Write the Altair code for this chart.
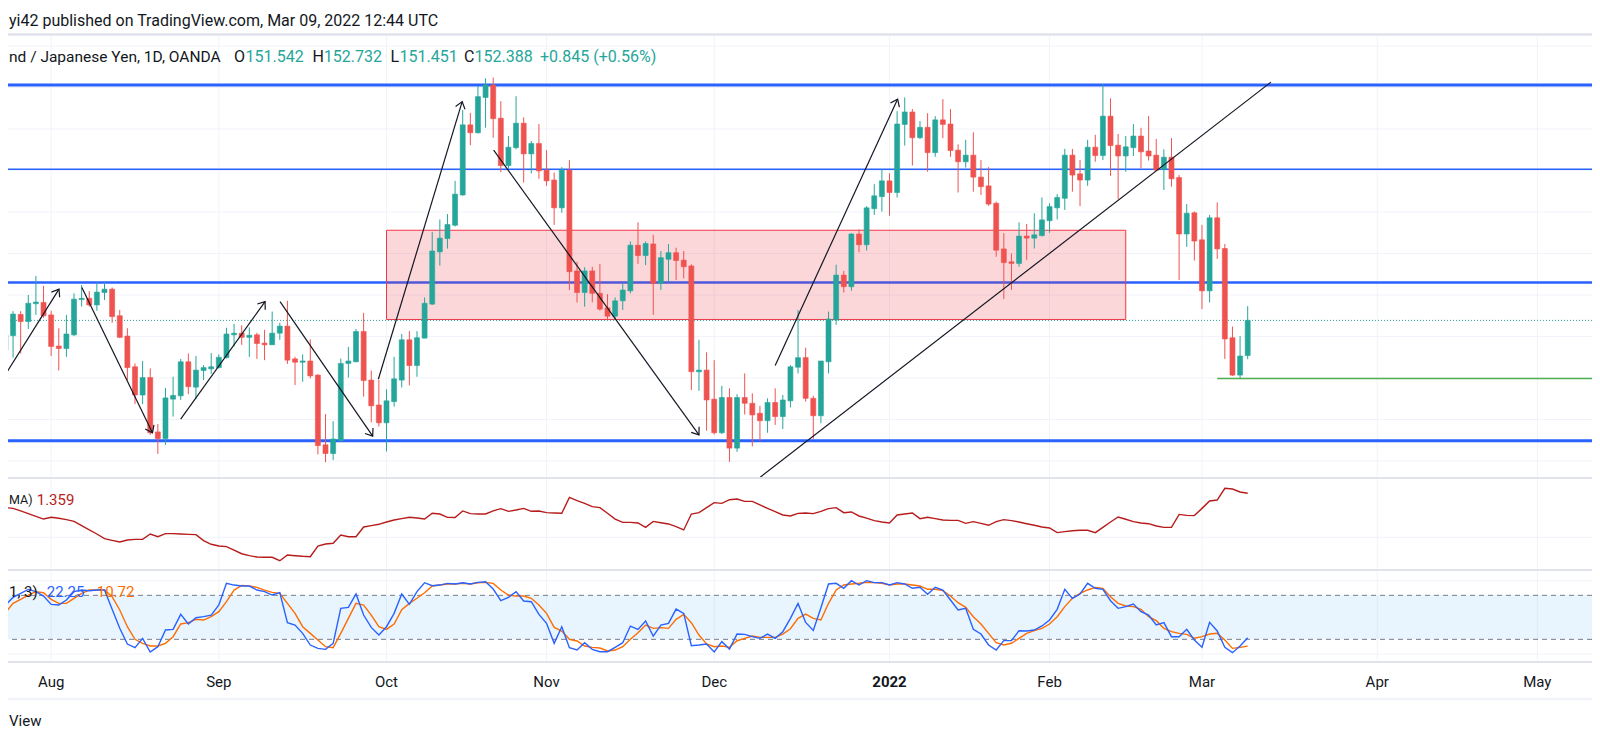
import math
import pandas as pd
import altair as alt

# ---------------- data (bar index 0 = Aug 2, 2021; 1D GBP/JPY, OANDA) ----------------
FIRST_BAR = -6

OPEN = [151.67, 152.02, 152.53, 152.36, 152.79, 152.82, 152.52, 151.77, 151.71, 152.04,
        152.89, 152.92, 152.76, 153.06, 153.14, 152.50, 152.01, 151.27, 150.59, 151.01,
        149.70, 149.54, 150.49, 150.57, 151.39, 150.78, 151.18, 151.22, 151.25, 151.49,
        152.04, 152.08, 151.98, 152.04, 151.84, 151.80, 152.08, 152.25, 151.46, 151.38,
        151.41, 151.07, 149.39, 149.18, 149.49, 151.35, 151.39, 152.12, 150.95, 150.35,
        149.92, 150.43, 150.95, 151.92, 151.30, 151.96, 152.78, 154.04, 154.36, 154.68,
        155.41, 157.10, 156.91, 157.76, 158.06, 157.26, 156.12, 156.55, 157.14, 156.40,
        156.65, 156.01, 155.77, 155.10, 156.01, 153.58, 153.06, 153.58, 153.04, 152.69,
        152.49, 152.86, 153.10, 154.20, 153.95, 154.23, 153.28, 153.86, 154.02, 153.84,
        153.70, 151.15, 151.19, 150.49, 149.68, 150.53, 149.31, 150.53, 150.39, 150.15,
        149.97, 150.41, 150.07, 150.45, 151.26, 151.49, 150.51, 150.09, 151.39, 152.40,
        153.48, 153.20, 154.47, 154.21, 155.08, 155.37, 155.75, 155.47, 157.11, 157.41,
        156.79, 157.04, 156.43, 157.22, 157.12, 156.49, 156.21, 156.37, 155.84, 155.63,
        155.21, 154.11, 153.80, 153.76, 154.42, 154.37, 154.43, 154.79, 155.10, 155.33,
        156.37, 155.92, 155.77, 156.56, 156.36, 157.31, 156.61, 156.35, 156.55, 156.83,
        156.47, 156.37, 156.03, 156.32, 155.83, 154.47, 154.98, 154.33, 153.10, 154.86,
        154.12, 151.97, 151.07, 151.542]

HIGH = [152.28, 152.61, 152.61, 153.00, 153.46, 153.22, 152.62, 152.20, 152.52, 153.04,
        153.24, 153.09, 153.31, 153.31, 153.18, 152.64, 152.20, 151.35, 151.41, 151.23,
        149.89, 150.76, 151.03, 151.46, 151.59, 151.53, 151.31, 151.60, 151.57, 152.21,
        152.30, 152.27, 152.22, 152.09, 152.16, 152.60, 152.33, 152.86, 151.51, 151.57,
        151.93, 151.09, 150.13, 149.96, 151.47, 151.75, 152.18, 152.57, 151.18, 150.95,
        150.73, 151.51, 152.06, 152.13, 152.13, 152.94, 154.52, 154.82, 154.95, 155.75,
        157.46, 157.39, 158.04, 158.22, 158.24, 157.67, 156.83, 157.79, 157.28, 156.71,
        157.12, 156.49, 155.95, 156.08, 156.25, 153.80, 153.67, 153.68, 153.75, 153.02,
        152.94, 153.28, 154.29, 154.75, 154.29, 154.45, 154.06, 154.23, 154.14, 154.06,
        153.74, 151.92, 151.62, 151.43, 150.81, 150.75, 150.61, 151.11, 150.63, 150.33,
        150.51, 150.75, 150.59, 151.31, 152.64, 151.73, 150.57, 151.41, 152.60, 153.73,
        153.58, 154.49, 154.58, 155.14, 155.67, 156.03, 155.93, 157.43, 157.76, 157.48,
        157.19, 157.38, 157.31, 157.72, 157.48, 156.63, 156.74, 156.92, 156.25, 156.08,
        155.25, 154.49, 154.00, 154.75, 154.71, 154.97, 155.35, 155.21, 155.43, 156.52,
        156.52, 156.25, 156.74, 156.86, 158.08, 157.74, 156.88, 156.83, 157.12, 157.03,
        157.31, 156.76, 156.51, 156.78, 155.89, 155.19, 155.01, 154.69, 154.93, 155.23,
        154.23, 152.24, 152.01, 152.732]

LOW = [151.47, 151.49, 151.59, 152.18, 152.52, 152.45, 151.53, 151.18, 151.51, 152.01,
       152.72, 152.72, 152.62, 152.88, 152.33, 151.96, 150.95, 150.37, 150.37, 149.63,
       149.17, 149.39, 150.07, 150.47, 150.61, 150.49, 150.95, 151.10, 151.23, 151.47,
       151.76, 151.80, 151.51, 151.46, 151.43, 151.80, 151.92, 151.34, 150.83, 150.91,
       150.99, 149.16, 148.97, 149.02, 149.47, 151.01, 151.38, 150.55, 149.93, 149.83,
       149.23, 150.31, 150.77, 150.82, 151.03, 151.96, 152.76, 153.71, 154.12, 154.65,
       155.39, 156.61, 156.89, 157.03, 156.79, 155.96, 156.04, 156.51, 155.71, 155.93,
       155.80, 155.63, 154.69, 154.98, 153.12, 152.82, 152.72, 152.82, 152.62, 152.41,
       152.41, 152.64, 153.04, 153.75, 153.72, 152.52, 153.12, 153.31, 153.36, 153.40,
       150.71, 150.69, 149.73, 149.64, 149.65, 148.98, 149.22, 150.12, 149.35, 149.48,
       149.68, 149.87, 149.77, 150.29, 151.11, 150.43, 149.53, 149.91, 151.11, 152.28,
       153.06, 153.10, 154.03, 154.07, 154.93, 155.01, 154.91, 155.35, 156.60, 156.12,
       156.76, 155.97, 156.33, 156.78, 156.33, 155.47, 156.07, 155.49, 155.41, 155.15,
       153.92, 152.90, 153.12, 153.68, 153.84, 154.12, 154.41, 154.50, 154.82, 155.05,
       155.49, 155.14, 155.63, 156.21, 156.25, 155.87, 155.31, 155.97, 156.35, 156.05,
       156.24, 155.99, 155.53, 155.61, 153.36, 154.16, 153.83, 152.66, 152.82, 153.87,
       151.46, 151.05, 150.99, 151.451]

CLOSE = [152.04, 152.54, 152.36, 152.80, 152.83, 152.50, 151.76, 151.71, 152.06, 152.90,
         152.92, 152.76, 153.07, 153.14, 152.48, 151.98, 151.25, 150.59, 151.01, 149.68,
         149.54, 150.52, 150.58, 151.39, 150.79, 151.19, 151.25, 151.27, 151.50, 152.06,
         152.08, 151.98, 152.03, 151.83, 151.80, 152.08, 152.25, 151.43, 151.38, 151.41,
         151.05, 149.37, 149.18, 149.53, 151.35, 151.41, 152.12, 150.94, 150.33, 149.92,
         150.45, 150.98, 151.92, 151.30, 151.97, 152.80, 154.06, 154.37, 154.70, 155.43,
         157.10, 156.91, 157.78, 158.06, 157.25, 156.12, 156.56, 157.14, 156.40, 156.65,
         155.99, 155.75, 155.10, 156.01, 153.56, 153.06, 153.58, 153.04, 152.66, 152.49,
         152.86, 153.12, 154.20, 153.95, 154.24, 153.28, 153.90, 154.02, 153.83, 153.68,
         151.15, 151.19, 150.47, 149.68, 150.53, 149.31, 150.53, 150.39, 150.11, 149.97,
         150.41, 150.07, 150.47, 151.27, 151.49, 150.51, 150.09, 151.41, 152.42, 153.48,
         153.20, 154.47, 154.21, 155.10, 155.39, 155.75, 155.47, 157.12, 157.41, 156.79,
         157.04, 156.43, 157.22, 157.11, 156.48, 156.21, 156.37, 155.84, 155.61, 155.19,
         154.08, 153.78, 153.76, 154.42, 154.37, 154.45, 154.81, 155.13, 155.35, 156.37,
         155.89, 155.77, 156.56, 156.36, 157.31, 156.60, 156.35, 156.57, 156.83, 156.45,
         156.35, 156.01, 156.32, 155.80, 154.47, 154.97, 154.30, 153.10, 154.86, 154.11,
         151.94, 151.07, 151.53, 152.388]

ATR = [1.242, 1.236, 1.215, 1.193, 1.171, 1.149, 1.163, 1.155, 1.144, 1.130,
       1.095, 1.060, 1.027, 0.989, 0.975, 0.962, 0.978, 0.983, 0.983, 1.027,
       1.005, 1.030, 1.030, 1.027, 1.024, 1.022, 0.973, 0.943, 0.929, 0.924,
       0.896, 0.866, 0.850, 0.839, 0.837, 0.837, 0.809, 0.856, 0.850, 0.845,
       0.842, 0.929, 0.945, 0.951, 1.019, 1.005, 1.005, 1.084, 1.095, 1.106,
       1.125, 1.141, 1.152, 1.163, 1.158, 1.149, 1.196, 1.190, 1.163, 1.161,
       1.215, 1.193, 1.190, 1.190, 1.215, 1.234, 1.212, 1.223, 1.236, 1.212,
       1.215, 1.201, 1.198, 1.196, 1.326, 1.299, 1.277, 1.250, 1.242, 1.196,
       1.149, 1.122, 1.122, 1.117, 1.081, 1.130, 1.119, 1.109, 1.087, 1.060,
       1.190, 1.201, 1.242, 1.283, 1.277, 1.307, 1.312, 1.293, 1.293, 1.264,
       1.236, 1.209, 1.182, 1.174, 1.195, 1.198, 1.193, 1.212, 1.234, 1.242,
       1.201, 1.207, 1.174, 1.157, 1.136, 1.125, 1.117, 1.182, 1.190, 1.198,
       1.152, 1.163, 1.152, 1.141, 1.138, 1.138, 1.114, 1.128, 1.114, 1.098,
       1.128, 1.144, 1.136, 1.125, 1.111, 1.098, 1.084, 1.076, 1.038, 1.046,
       1.054, 1.057, 1.057, 1.038, 1.081, 1.125, 1.166, 1.147, 1.128, 1.117,
       1.111, 1.092, 1.081, 1.081, 1.187, 1.179, 1.177, 1.236, 1.296, 1.304,
       1.400, 1.394, 1.370, 1.359]

STOCH_K = [66.8, 77.2, 82.7, 88.1, 85.0, 79.0, 67.7, 66.8, 73.6, 85.0,
           87.2, 86.3, 87.2, 87.2, 60.9, 35.0, 13.6, 8.6, 21.3, 2.7,
           10.0, 32.7, 33.6, 54.0, 40.9, 49.5, 50.9, 53.1, 66.8, 96.3,
           94.0, 92.7, 92.7, 87.2, 85.0, 80.4, 83.6, 42.7, 39.5, 28.1,
           12.2, 7.7, 6.3, 14.5, 62.2, 63.6, 81.8, 53.1, 36.3, 25.9,
           37.2, 55.4, 81.8, 67.7, 85.0, 97.2, 93.1, 94.0, 96.3, 95.4,
           97.2, 95.4, 97.7, 98.6, 88.6, 72.7, 77.2, 85.0, 72.2, 71.3,
           54.0, 41.8, 14.5, 37.2, 8.6, 5.4, 15.4, 6.3, 3.1, 3.1,
           9.1, 15.4, 38.1, 33.6, 45.0, 24.5, 39.5, 41.8, 61.3, 55.4,
           11.3, 12.2, 13.6, 2.7, 16.8, 6.8, 27.2, 26.8, 23.6, 21.3,
           27.2, 21.3, 30.4, 48.6, 69.0, 43.0, 32.0, 63.0, 95.5, 96.4,
           89.6, 100.0, 94.1, 100.0, 97.3, 97.3, 94.1, 97.3, 95.5, 89.6,
           90.9, 81.4, 90.9, 87.3, 73.6, 60.0, 62.3, 33.6, 27.3, 12.3,
           5.5, 18.2, 18.2, 31.8, 31.4, 32.7, 38.2, 46.4, 60.9, 88.2,
           75.9, 81.8, 96.4, 89.6, 88.2, 72.7, 62.3, 64.6, 68.2, 57.7,
           53.2, 39.6, 42.7, 23.6, 23.6, 33.6, 19.1, 9.1, 43.2, 31.4,
           9.1, 1.8, 10.9, 22.25]

STOCH_D = [56.3, 69.0, 74.5, 80.4, 85.0, 83.6, 74.5, 69.0, 69.0, 75.9,
           82.7, 87.2, 87.2, 87.2, 78.1, 60.0, 37.2, 20.0, 14.5, 10.9,
           10.9, 14.5, 23.6, 40.9, 42.7, 47.2, 46.3, 50.9, 57.7, 71.3,
           87.2, 93.6, 92.7, 90.9, 87.2, 84.0, 82.7, 69.0, 55.4, 37.2,
           28.1, 19.1, 10.0, 8.6, 28.1, 48.6, 69.0, 66.8, 53.1, 37.2,
           33.6, 40.9, 60.5, 69.0, 76.0, 83.6, 92.7, 94.0, 95.4, 95.4,
           96.3, 95.4, 97.2, 97.7, 96.3, 87.2, 80.4, 79.0, 79.0, 75.9,
           66.8, 55.4, 36.3, 31.3, 20.0, 17.7, 10.9, 9.1, 8.1, 4.1,
           5.4, 10.0, 20.0, 29.1, 39.5, 35.0, 35.9, 35.0, 47.2, 54.0,
           42.7, 25.9, 13.6, 9.9, 10.9, 9.1, 18.1, 21.3, 24.5, 22.7,
           22.7, 22.7, 27.2, 34.5, 48.6, 54.5, 48.6, 46.4, 69.1, 87.3,
           94.1, 95.5, 96.4, 97.7, 97.3, 96.4, 94.1, 95.5, 95.5, 94.1,
           92.7, 88.2, 88.2, 86.4, 79.1, 70.0, 63.6, 50.9, 40.9, 28.2,
           15.5, 12.3, 14.6, 21.4, 28.2, 31.8, 35.0, 40.9, 50.9, 64.6,
           75.9, 82.7, 87.3, 90.9, 89.6, 78.2, 69.1, 65.5, 64.6, 60.9,
           50.9, 45.5, 35.0, 30.5, 28.2, 26.8, 21.4, 23.6, 27.3, 28.2,
           19.1, 7.7, 9.1, 10.72]

MONTH_IDX = [0, 22, 44, 65, 87, 110, 131, 151, 174, 195]
MONTH_LBL = ["Aug", "Sep", "Oct", "Nov", "Dec", "2022", "Feb", "Mar", "Apr", "May"]

PRICE_GRID = [149, 150, 151, 152, 153, 154, 155, 156, 157, 158, 159]
LEVELS = [158.06, 156.03, 153.30, 149.49]
LEVEL_W = [3.0, 1.3, 2.5, 3.0]
SUPPORT_PRICE = 150.99
SUPPORT_FROM = 153
LAST_CLOSE = 152.388
ZONE_X = [44, 141]
ZONE_P = [152.41, 154.56]

TREND_X1 = [-6.05, 4.03, 16.99, 30.03, 42.93, 58.06, 95.00, 93.04]
TREND_Y1 = [151.07, 153.18, 150.01, 152.84, 150.97, 156.49, 151.30, 148.61]
TREND_X2 = [1.03, 13.29, 28.07, 42.19, 53.93, 85.00, 111.07, 160.05]
TREND_Y2 = [153.14, 149.68, 152.84, 149.60, 157.66, 149.63, 157.72, 158.13]
TREND_ARROW = [True, True, True, True, True, True, True, False]

# texts as visible in the (left-cropped) reference
HEADER = "yi42 published on TradingView.com, Mar 09, 2022 12:44 UTC"
SYMBOL = "nd / Japanese Yen, 1D, OANDA"
CHANGE = "+0.845 (+0.56%)"
ATR_LBL = "MA)"
STOCH_LBL = "1, 3)"
FOOTER = "View"

# ---------------- layout ----------------
W, H = 1584, 722
X_DOM = [-5.007, 201.52]
P_DOM, P_RNG = [148.590, 159.241], [470, 28]
M_DOM, M_RNG = [0.7332, 1.4839], [562, 470]
S_DOM, S_RNG = [-10.91, 114.55], [654, 562]

GREEN, RED = "#26a69a", "#ef5350"
BLUE, ORANGE = "#2962ff", "#ff6d00"
ATR_C = "#b71c1c"
INK = "#131722"
GRID = "#f0f3fa"
SEP = "#e0e3eb"
FONT = "Roboto"

XS = alt.Scale(domain=X_DOM, nice=False, zero=False)
YP = alt.Scale(domain=P_DOM, range=P_RNG, nice=False, zero=False)
YM = alt.Scale(domain=M_DOM, range=M_RNG, nice=False, zero=False)
YS = alt.Scale(domain=S_DOM, range=S_RNG, nice=False, zero=False)


def X(f):
    return alt.X(f, scale=XS, axis=None)


def Y(f, s):
    return alt.Y(f, scale=s, axis=None)


idx = list(range(FIRST_BAR, FIRST_BAR + len(OPEN)))
bars = pd.DataFrame({"i": idx, "o": OPEN, "h": HIGH, "l": LOW, "c": CLOSE,
                     "atr": ATR, "k": STOCH_K, "d": STOCH_D})
bars["dir"] = ["up" if c >= o else "down" for o, c in zip(OPEN, CLOSE)]
CS = alt.Scale(domain=["up", "down"], range=[GREEN, RED])

layers = []

# grid
months = pd.DataFrame({"i": MONTH_IDX, "lbl": MONTH_LBL})
layers.append(alt.Chart(months).mark_rule(color=GRID, strokeWidth=1).encode(
    x=X("i:Q"), y=alt.value(28), y2=alt.value(654)))
layers.append(alt.Chart(pd.DataFrame({"p": PRICE_GRID})).mark_rule(color=GRID, strokeWidth=1).encode(
    y=Y("p:Q", YP)))
layers.append(alt.Chart(pd.DataFrame({"v": [1.0]})).mark_rule(color=GRID, strokeWidth=1).encode(
    y=Y("v:Q", YM)))
layers.append(alt.Chart(pd.DataFrame({"v": [0, 100]})).mark_rule(color=GRID, strokeWidth=1).encode(
    y=Y("v:Q", YS)))

# stochastic band + hlines
layers.append(alt.Chart(pd.DataFrame({"a": [20], "b": [80]})).mark_rect(
    color="#2196f3", opacity=0.1).encode(
    x=alt.value(0), x2=alt.value(W), y=Y("a:Q", YS), y2="b:Q"))
layers.append(alt.Chart(pd.DataFrame({"v": [20, 80]})).mark_rule(
    color="#787b86", strokeWidth=1, strokeDash=[5, 4]).encode(y=Y("v:Q", YS)))

# horizontal levels
lv = pd.DataFrame({"p": LEVELS, "w": LEVEL_W})
layers.append(alt.Chart(lv).mark_rule(color=BLUE).encode(
    y=Y("p:Q", YP), strokeWidth=alt.StrokeWidth("w:Q", scale=None)))

# zone
zone = pd.DataFrame({"x": [ZONE_X[0]], "x2": [ZONE_X[1]], "lo": [ZONE_P[0]], "hi": [ZONE_P[1]]})
layers.append(alt.Chart(zone).mark_rect(fill="#f23645", fillOpacity=0.2,
                                        stroke="#f23645", strokeWidth=1).encode(
    x=X("x:Q"), x2="x2:Q", y=Y("lo:Q", YP), y2="hi:Q"))

# last price dotted + support line
layers.append(alt.Chart(pd.DataFrame({"p": [LAST_CLOSE]})).mark_rule(
    color=GREEN, strokeWidth=1, strokeDash=[1, 2]).encode(y=Y("p:Q", YP)))
layers.append(alt.Chart(pd.DataFrame({"i": [SUPPORT_FROM], "p": [SUPPORT_PRICE]})).mark_rule(
    color="#4caf50", strokeWidth=1.5).encode(x=X("i:Q"), x2=alt.value(W), y=Y("p:Q", YP)))

# candles
base = alt.Chart(bars)
layers.append(base.mark_rule(strokeWidth=1).encode(
    x=X("i:Q"), y=Y("l:Q", YP), y2="h:Q",
    color=alt.Color("dir:N", scale=CS, legend=None)))
layers.append(base.mark_bar(size=5, strokeWidth=0.6).encode(
    x=X("i:Q"), y=Y("o:Q", YP), y2="c:Q",
    color=alt.Color("dir:N", scale=CS, legend=None),
    stroke=alt.Stroke("dir:N", scale=CS, legend=None)))

# trend annotations
tr = pd.DataFrame({"x1": TREND_X1, "y1": TREND_Y1, "x2": TREND_X2, "y2": TREND_Y2})
layers.append(alt.Chart(tr).mark_rule(color=INK, strokeWidth=1.2).encode(
    x=X("x1:Q"), x2="x2:Q", y=Y("y1:Q", YP), y2="y2:Q"))

px_bar = W / (X_DOM[1] - X_DOM[0])
px_yen = (P_RNG[0] - P_RNG[1]) / (P_DOM[1] - P_DOM[0])
heads = []
for x1, y1, x2, y2, a in zip(TREND_X1, TREND_Y1, TREND_X2, TREND_Y2, TREND_ARROW):
    if a:
        dx = (x2 - x1) * px_bar
        dy = -(y2 - y1) * px_yen
        ang = math.degrees(math.atan2(dx, -dy)) % 360
        heads.append({"x": x2, "y": y2, "ang": ang})
layers.append(alt.Chart(pd.DataFrame(heads)).mark_point(
    shape="M -0.75 1 L 0 0 L 0.75 1", filled=False, size=170,
    stroke=INK, strokeWidth=1.2, opacity=1).encode(
    x=X("x:Q"), y=Y("y:Q", YP), angle=alt.Angle("ang:Q", scale=None)))

# ATR pane
layers.append(base.mark_line(color=ATR_C, strokeWidth=1.4).encode(
    x=X("i:Q"), y=Y("atr:Q", YM)))

# stochastic pane
layers.append(base.mark_line(color=ORANGE, strokeWidth=1.4).encode(
    x=X("i:Q"), y=Y("d:Q", YS)))
layers.append(base.mark_line(color=BLUE, strokeWidth=1.4).encode(
    x=X("i:Q"), y=Y("k:Q", YS)))

# pane separators
for yy, w, c in [(26.6, 2.5, SEP), (470, 2, SEP), (562, 2, SEP), (654, 2, SEP), (691, 2.5, GRID)]:
    layers.append(alt.Chart(pd.DataFrame({"a": [0]})).mark_rule(color=c, strokeWidth=w).encode(
        x=alt.value(0), x2=alt.value(W), y=alt.value(yy)))


def txt(t, x, y, color=INK, size=15, align="left", weight="normal"):
    return alt.Chart(pd.DataFrame({"t": [t]})).mark_text(
        align=align, baseline="middle", font=FONT, fontSize=size,
        fontWeight=weight, color=color).encode(
        text="t:N", x=alt.value(x), y=alt.value(y))


layers.append(txt(HEADER, 1, 12.7, size=16))
oy = 48.7
layers += [
    txt(SYMBOL, 1, oy, size=15.5),
    txt("O", 226, oy, size=16), txt(f"{OPEN[-1]:.3f}", 237.5, oy, GREEN, 16),
    txt("H", 304.5, oy, size=16), txt(f"{HIGH[-1]:.3f}", 315.7, oy, GREEN, 16),
    txt("L", 382.6, oy, size=16), txt(f"{LOW[-1]:.3f}", 391.5, oy, GREEN, 16),
    txt("C", 456, oy, size=16), txt(f"{CLOSE[-1]:.3f}", 466.5, oy, GREEN, 16),
    txt(CHANGE, 532, oy, GREEN, 16),
]
layers += [
    txt(ATR_LBL, 1, 492, size=12.5),
    txt(f"{ATR[-1]:.3f}", 28.7, 492, ATR_C),
    txt(STOCH_LBL, 1, 583.7),
    txt(f"{STOCH_K[-1]:.2f}", 38.7, 583.7, BLUE),
    txt(f"{STOCH_D[-1]:.2f}", 88.7, 583.7, ORANGE),
    txt(FOOTER, 1, 712.5, size=15),
]

# month labels
reg = months[months.lbl != "2022"]
bold = months[months.lbl == "2022"]
layers.append(alt.Chart(reg).mark_text(font=FONT, fontSize=15, color=INK, baseline="middle").encode(
    x=X("i:Q"), y=alt.value(673.7), text="lbl:N"))
layers.append(alt.Chart(bold).mark_text(font=FONT, fontSize=15, fontWeight="bold", color=INK,
                                        baseline="middle").encode(
    x=X("i:Q"), y=alt.value(673.7), text="lbl:N"))

chart = alt.layer(*layers).resolve_scale(y="independent").properties(
    width=W, height=H, padding=0, background="white",
    autosize=alt.AutoSizeParams(type="none"),
).configure_view(strokeWidth=0)

chart.save("out.html", embed_options={"renderer": "svg", "actions": False})
